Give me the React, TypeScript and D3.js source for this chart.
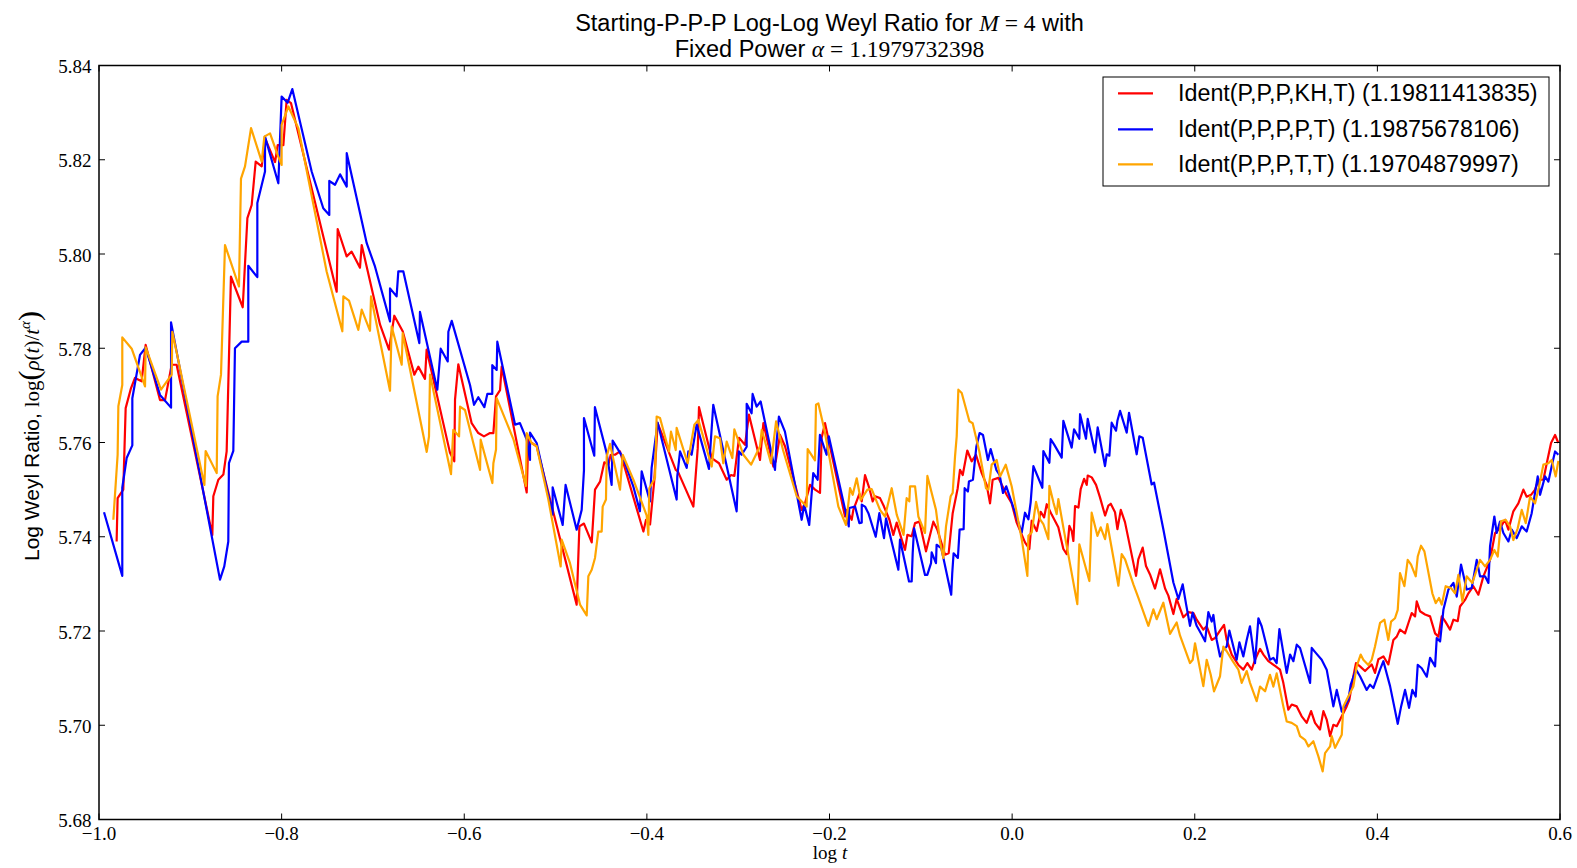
import React from "react";
import * as d3 from "d3";

const X_TICKS = [-1.0, -0.8, -0.6, -0.4, -0.2, 0.0, 0.2, 0.4, 0.6];
const Y_TICKS = [5.68, 5.7, 5.72, 5.74, 5.76, 5.78, 5.8, 5.82, 5.84];

const LABELS = [
  "Ident(P,P,P,KH,T) (1.19811413835)",
  "Ident(P,P,P,P,T) (1.19875678106)",
  "Ident(P,P,P,T,T) (1.19704879997)",
];
const COLORS = ["#ff0000", "#0000ff", "#ffa500"];

const RED: [number, number][] = [
  [-0.9807,5.739],[-0.9796,5.7482],[-0.9734,5.75],[-0.9708,5.7673],[-0.965,5.7715],[-0.9606,5.7737],[-0.9533,5.773],[-0.9489,5.7807],[-0.9332,5.769],[-0.9277,5.769],[-0.9204,5.7765],[-0.915,5.7765],[-0.8759,5.7404],[-0.8748,5.7486],[-0.8693,5.7521],[-0.8638,5.7532],[-0.8602,5.7581],[-0.8555,5.7952],[-0.8426,5.7887],[-0.8375,5.8076],[-0.8328,5.8104],[-0.8284,5.8196],[-0.8218,5.8186],[-0.8182,5.8246],[-0.8072,5.8195],[-0.8043,5.8231],[-0.7981,5.8231],[-0.7945,5.8327],[-0.7897,5.832],[-0.7397,5.792],[-0.7386,5.8053],[-0.7288,5.7995],[-0.7233,5.8005],[-0.7142,5.7971],[-0.7123,5.8019],[-0.6922,5.785],[-0.6824,5.7797],[-0.6766,5.7869],[-0.6674,5.7836],[-0.6547,5.7744],[-0.6503,5.7761],[-0.643,5.7735],[-0.6412,5.7797],[-0.6156,5.7578],[-0.6109,5.756],[-0.6101,5.7691],[-0.6065,5.7766],
  [-0.5919,5.7641],[-0.5846,5.762],[-0.5784,5.7613],[-0.5718,5.762],[-0.5681,5.762],[-0.5652,5.7698],[-0.5608,5.7711],[-0.559,5.7761],[-0.5316,5.7494],[-0.5298,5.7607],[-0.5261,5.7599],[-0.5207,5.7592],[-0.4769,5.7256],[-0.4739,5.7422],[-0.4689,5.7428],[-0.4604,5.7388],[-0.4568,5.75],[-0.4513,5.7517],[-0.4466,5.7558],[-0.4422,5.7553],[-0.4396,5.7574],[-0.4349,5.7574],[-0.4294,5.7581],[-0.4038,5.7411],[-0.4009,5.7436],[-0.3965,5.7426],[-0.3918,5.7521],[-0.3882,5.7641],[-0.3684,5.7542],[-0.3662,5.7539],[-0.3637,5.7528],[-0.3491,5.7464],[-0.3443,5.7588],[-0.3429,5.7675],[-0.329,5.7567],[-0.321,5.7556],[-0.3126,5.7521],[-0.3078,5.7531],[-0.3042,5.7529],[-0.2991,5.761],[-0.2925,5.7595],[-0.2882,5.7659],[-0.2761,5.7563],[-0.2724,5.7641],[-0.2615,5.7549],[-0.2589,5.756],[-0.2542,5.7616],[-0.2487,5.7592],[-0.2305,5.7457],[-0.2268,5.7471],[-0.2213,5.751],[-0.2158,5.75],[-0.2104,5.7493],[-0.2086,5.761],[-0.2049,5.7641],
  [-0.183,5.7443],[-0.181,5.7457],[-0.1757,5.7436],[-0.1739,5.7457],[-0.1673,5.7491],[-0.1647,5.7475],[-0.1611,5.7531],[-0.1564,5.7503],[-0.1527,5.7475],[-0.1501,5.7486],[-0.1447,5.7482],[-0.1403,5.7464],[-0.1344,5.7436],[-0.1301,5.7404],[-0.1264,5.743],[-0.1209,5.7394],[-0.1173,5.7372],[-0.1147,5.7404],[-0.11,5.7401],[-0.1063,5.7429],[-0.1015,5.7432],[-0.0943,5.7369],[-0.0863,5.7432],[-0.0819,5.7415],[-0.0735,5.7362],[-0.0695,5.7365],[-0.0651,5.745],[-0.0596,5.7503],[-0.0571,5.7542],[-0.0541,5.7531],[-0.0491,5.7583],[-0.0443,5.756],[-0.0396,5.7574],[-0.0333,5.7535],[-0.0279,5.751],[-0.0242,5.7471],[-0.0213,5.7521],[-0.0151,5.7525],[-0.006,5.7489],[-0.0005,5.7471],
  [0.005,5.743],[0.0141,5.7388],[0.0189,5.7374],[0.0214,5.7434],[0.0269,5.7412],[0.0313,5.7453],[0.035,5.7441],[0.0379,5.7469],[0.0433,5.7447],[0.0506,5.742],[0.0561,5.7374],[0.0598,5.7363],[0.0627,5.7423],[0.0653,5.7412],[0.0671,5.7391],[0.0689,5.7465],[0.0726,5.7462],[0.0751,5.7501],[0.0788,5.7523],[0.0817,5.751],[0.0828,5.753],[0.0872,5.7526],[0.0919,5.751],[0.0963,5.7483],[0.1018,5.7445],[0.1054,5.7466],[0.108,5.747],[0.1127,5.7452],[0.1153,5.7416],[0.119,5.7457],[0.1236,5.7431],[0.1357,5.7317],[0.1382,5.7352],[0.143,5.7377],[0.1466,5.7338],[0.151,5.732],[0.1565,5.729],[0.162,5.7331],[0.1675,5.729],[0.1711,5.7275],[0.1766,5.7236],[0.1802,5.7268],[0.1875,5.7229],[0.193,5.724],
  [0.1985,5.7238],[0.2021,5.7224],[0.2094,5.7203],[0.2131,5.721],[0.2186,5.7181],[0.2222,5.7185],[0.2284,5.7203],[0.2321,5.7213],[0.235,5.7181],[0.2405,5.715],[0.2478,5.7128],[0.2532,5.7118],[0.2576,5.7132],[0.2624,5.7118],[0.266,5.7139],[0.2715,5.7162],[0.2752,5.715],[0.2806,5.7136],[0.2879,5.7126],[0.2934,5.7118],[0.297,5.709],[0.3025,5.7033],[0.3062,5.7044],[0.3117,5.704],[0.3171,5.7019],[0.3226,5.7005],[0.3274,5.703],[0.3317,5.7005],[0.3372,5.6991],[0.3409,5.703],[0.3445,5.7012],[0.3482,5.6977],[0.3518,5.7001],[0.3555,5.6998],[0.361,5.7019],[0.3664,5.704],[0.3693,5.7054],[0.373,5.7097],[0.3766,5.7132],[0.381,5.7125],[0.3865,5.7115],[0.3938,5.7129],
  [0.3974,5.7111],[0.4011,5.714],[0.4066,5.7146],[0.412,5.7129],[0.4175,5.7181],[0.4212,5.7188],[0.4248,5.7203],[0.4303,5.7195],[0.434,5.7217],[0.4376,5.7238],[0.4413,5.7231],[0.4431,5.7263],[0.4467,5.7242],[0.4522,5.7235],[0.4577,5.7231],[0.4632,5.7195],[0.4668,5.7188],[0.4705,5.7231],[0.4741,5.7221],[0.4796,5.7203],[0.4833,5.7224],[0.488,5.7221],[0.4905,5.7252],[0.496,5.7266],[0.4997,5.728],[0.5051,5.7295],[0.5106,5.7277],[0.5161,5.7316],[0.5234,5.7351],[0.5289,5.7408],[0.5343,5.7418],[0.5398,5.7436],[0.5435,5.7415],[0.5489,5.7454],[0.5544,5.7471],[0.5599,5.75],[0.5635,5.7485],[0.5683,5.7489],[0.5727,5.75],[0.5763,5.7521],[0.5818,5.7521],[0.5855,5.7556],[0.5902,5.7599],[0.5946,5.7616],[0.5982,5.7599],
];

const BLUE: [number, number][] = [
  [-0.9945,5.7452],[-0.9745,5.7317],[-0.9745,5.7504],[-0.9697,5.7567],[-0.9635,5.7594],[-0.9635,5.7694],[-0.9551,5.7786],[-0.9489,5.7801],[-0.9332,5.7701],[-0.9211,5.7674],[-0.9211,5.7855],[-0.8675,5.7309],[-0.8628,5.7337],[-0.8584,5.739],[-0.8577,5.7556],[-0.8529,5.7582],[-0.8511,5.78],[-0.8437,5.7814],[-0.8365,5.7814],[-0.8365,5.7975],[-0.8266,5.7951],[-0.8266,5.8108],[-0.8182,5.8175],[-0.8182,5.8249],[-0.8036,5.815],[-0.8,5.8334],
  [-0.7934,5.8321],[-0.7883,5.835],[-0.7671,5.8175],[-0.7544,5.8097],[-0.7478,5.8083],[-0.7478,5.8155],[-0.7415,5.8147],[-0.736,5.8169],[-0.7287,5.8143],[-0.7287,5.8214],[-0.7068,5.8023],[-0.6977,5.7973],[-0.6813,5.7857],[-0.6813,5.7927],[-0.6741,5.791],[-0.6722,5.7963],[-0.6667,5.7963],[-0.6492,5.7811],[-0.6485,5.7877],[-0.6295,5.7712],[-0.6258,5.7799],[-0.6181,5.7772],[-0.6174,5.7835],[-0.6137,5.7858],[-0.5937,5.7722],
  [-0.5893,5.768],[-0.5846,5.7696],[-0.578,5.7675],[-0.5747,5.7703],[-0.5693,5.7703],[-0.5693,5.7764],[-0.5645,5.7754],[-0.5638,5.7814],[-0.5444,5.7638],[-0.539,5.7641],[-0.5316,5.7606],[-0.528,5.7563],[-0.528,5.7621],[-0.5207,5.7599],[-0.5032,5.7447],[-0.5032,5.7505],[-0.4922,5.7425],[-0.489,5.751],[-0.4769,5.7415],[-0.4714,5.7457],[-0.4689,5.7541],[-0.4689,5.7652],[-0.4576,5.7572],[-0.4569,5.7675],[-0.4441,5.7578],[-0.4386,5.751],[-0.4375,5.7604],[-0.4258,5.7567],[-0.4149,5.7507],[-0.4076,5.7454],[-0.4057,5.7539],[-0.3966,5.7475],[-0.3948,5.7546],
  [-0.3882,5.7642],[-0.3674,5.7479],[-0.3667,5.7528],[-0.3637,5.7581],[-0.3564,5.7546],[-0.3546,5.7581],[-0.351,5.7574],[-0.3455,5.7638],[-0.332,5.7544],[-0.3273,5.768],[-0.3017,5.7454],[-0.2992,5.7581],[-0.2962,5.7574],[-0.2907,5.7591],[-0.2907,5.7682],[-0.2853,5.7662],[-0.2842,5.7703],[-0.2798,5.7676],[-0.2754,5.7687],[-0.2597,5.7542],[-0.2579,5.7602],[-0.2554,5.7655],[-0.2488,5.7623],[-0.2305,5.7436],[-0.2277,5.7468],[-0.2222,5.7425],[-0.2178,5.7535],[-0.213,5.7521],[-0.2105,5.7616],[-0.2032,5.7574],[-0.2007,5.7613],
  [-0.1825,5.7454],[-0.1789,5.7422],[-0.1784,5.7461],[-0.172,5.7464],[-0.1673,5.7429],[-0.1647,5.743],[-0.1647,5.7468],[-0.1611,5.7464],[-0.1574,5.745],[-0.1494,5.74],[-0.1454,5.745],[-0.1403,5.7397],[-0.1381,5.7439],[-0.1246,5.733],[-0.1228,5.7394],[-0.1129,5.7305],[-0.11,5.7305],[-0.1089,5.7365],[-0.1074,5.7418],[-0.0954,5.7319],[-0.0929,5.7319],[-0.0888,5.7344],[-0.0881,5.7367],[-0.0834,5.7344],[-0.0827,5.7383],[-0.0776,5.7376],[-0.0667,5.7277],[-0.0656,5.7322],[-0.0641,5.7365],[-0.0594,5.7355],[-0.0575,5.7415],[-0.0531,5.7416],[-0.052,5.7503],[-0.0484,5.7496],[-0.0473,5.7517],[-0.0429,5.7521],[-0.0392,5.7591],[-0.0356,5.762],[-0.0319,5.7616],[-0.0265,5.7563],[-0.0235,5.7586],[-0.0173,5.7542],[-0.0137,5.7531],[-0.01,5.7493],[-0.0064,5.7507],[-0.0009,5.7475],
  [0.0014,5.7462],[0.0105,5.7409],[0.0141,5.7451],[0.0178,5.7437],[0.0203,5.7473],[0.0233,5.755],[0.0331,5.7504],[0.0342,5.7582],[0.0408,5.7557],[0.0422,5.7607],[0.0459,5.7596],[0.0543,5.7568],[0.0561,5.7646],[0.0652,5.7589],[0.0678,5.7628],[0.0736,5.7608],[0.0744,5.766],[0.0809,5.7608],[0.0828,5.765],[0.0908,5.7579],[0.0937,5.7632],[0.1017,5.755],[0.1036,5.7575],[0.1065,5.7572],[0.109,5.7642],[0.1138,5.7625],[0.1153,5.7646],[0.1182,5.7667],[0.1255,5.7621],[0.128,5.7663],[0.1364,5.7575],[0.1393,5.7613],[0.143,5.761],[0.1528,5.7511],[0.1554,5.7515],[0.1656,5.7416],[0.1766,5.7303],[0.1821,5.7268],[0.1868,5.7299],[0.1905,5.7257],[0.1948,5.7211],[0.1977,5.7239],[0.2021,5.7211],
  [0.2076,5.7192],[0.2113,5.7178],[0.2149,5.724],[0.2186,5.722],[0.2204,5.7234],[0.224,5.7181],[0.2277,5.7146],[0.2313,5.716],[0.235,5.7167],[0.2379,5.7201],[0.2459,5.7139],[0.2489,5.7176],[0.2532,5.7146],[0.2569,5.7181],[0.2605,5.721],[0.266,5.7132],[0.2697,5.7227],[0.2733,5.721],[0.2824,5.7139],[0.2861,5.7143],[0.2897,5.7132],[0.2927,5.7204],[0.3007,5.7111],[0.3044,5.715],[0.308,5.7136],[0.3117,5.7171],[0.3153,5.7164],[0.3263,5.709],[0.3281,5.7164],[0.3328,5.7153],[0.339,5.7139],[0.3445,5.7118],[0.3518,5.704],[0.3555,5.7075],[0.361,5.7029],[0.3682,5.7054],[0.3708,5.7086],[0.3766,5.7118],[0.381,5.7104],[0.3883,5.7075],[0.392,5.7086],[0.3956,5.7079],
  [0.4029,5.7118],[0.4066,5.7136],[0.4139,5.7083],[0.4223,5.7003],[0.426,5.704],[0.4303,5.7075],[0.4347,5.7037],[0.4383,5.7075],[0.442,5.7061],[0.4442,5.7128],[0.4486,5.7121],[0.4541,5.7103],[0.4577,5.7143],[0.4632,5.7125],[0.465,5.7185],[0.4687,5.7178],[0.4723,5.7245],[0.4778,5.7288],[0.4833,5.7302],[0.4869,5.7273],[0.4916,5.7341],[0.4978,5.7288],[0.5033,5.7291],[0.5088,5.7351],[0.5124,5.7316],[0.5179,5.7316],[0.5216,5.7302],[0.5234,5.738],[0.5281,5.7443],[0.5307,5.7408],[0.5343,5.7432],[0.538,5.7408],[0.5435,5.739],[0.5471,5.7415],[0.5526,5.7397],[0.5581,5.7422],[0.5635,5.7411],[0.569,5.745],[0.5756,5.7528],[0.5782,5.7489],[0.5836,5.7528],[0.5873,5.7517],[0.5916,5.7556],[0.5946,5.7581],[0.5982,5.7574],
];

const ORANGE: [number, number][] = [
  [-0.9843,5.7436],[-0.9796,5.7574],[-0.9788,5.7677],[-0.9745,5.7722],[-0.9745,5.7823],[-0.9642,5.7799],[-0.9496,5.7719],[-0.9489,5.7802],[-0.9321,5.7712],[-0.9204,5.7744],[-0.9197,5.7835],[-0.8846,5.751],[-0.8832,5.7582],[-0.8711,5.7535],[-0.8701,5.7698],[-0.8664,5.7744],[-0.862,5.8019],[-0.8467,5.7931],[-0.8445,5.816],[-0.8401,5.8186],[-0.8335,5.8267],[-0.8218,5.8196],[-0.8189,5.8249],[-0.8127,5.8256],[-0.8043,5.821],[-0.8,5.8189],[-0.8,5.8274],
  [-0.7926,5.8313],[-0.7817,5.8267],[-0.7507,5.7963],[-0.7335,5.7836],[-0.7324,5.791],[-0.7262,5.7901],[-0.716,5.7839],[-0.7123,5.7882],[-0.7032,5.7837],[-0.7021,5.791],[-0.6813,5.771],[-0.6795,5.7846],[-0.6685,5.7765],[-0.6674,5.7832],[-0.6411,5.758],[-0.6386,5.7613],[-0.6375,5.7744],[-0.6145,5.7533],[-0.612,5.7627],[-0.6057,5.7613],[-0.6046,5.7676],[-0.5992,5.7669],
  [-0.5827,5.7542],[-0.582,5.7606],[-0.5692,5.7514],[-0.5681,5.7556],[-0.5652,5.7585],[-0.5645,5.7694],[-0.546,5.7606],[-0.5324,5.7508],[-0.5316,5.762],[-0.5262,5.7599],[-0.5207,5.7592],[-0.5079,5.7479],[-0.4944,5.7337],[-0.4933,5.7394],[-0.4842,5.7344],[-0.4732,5.7256],[-0.4659,5.7233],[-0.4641,5.7316],[-0.4604,5.733],[-0.4568,5.7355],[-0.4532,5.7411],[-0.4495,5.7411],[-0.4484,5.7464],[-0.4448,5.7479],[-0.444,5.757],[-0.4404,5.7597],[-0.4294,5.75],[-0.4265,5.7574],[-0.4148,5.7521],[-0.4002,5.7445],[-0.3984,5.7404],[-0.3973,5.7503],[-0.3911,5.7525],
  [-0.3893,5.7655],[-0.3856,5.7652],[-0.3757,5.7581],[-0.3736,5.7623],[-0.3684,5.7584],[-0.3674,5.7631],[-0.3553,5.7556],[-0.348,5.7638],[-0.3436,5.7648],[-0.329,5.7549],[-0.3254,5.7613],[-0.3199,5.7609],[-0.3163,5.7556],[-0.3126,5.7602],[-0.3064,5.7567],[-0.3042,5.7628],[-0.2943,5.7574],[-0.2859,5.7553],[-0.2761,5.7592],[-0.2742,5.7627],[-0.264,5.7556],[-0.2585,5.7645],[-0.2509,5.7584],[-0.2359,5.7486],[-0.225,5.7464],[-0.2239,5.7586],[-0.2159,5.7562],[-0.2148,5.768],[-0.2122,5.7683],[-0.2056,5.7627],
  [-0.1903,5.7464],[-0.1819,5.7425],[-0.1775,5.7503],[-0.1746,5.7489],[-0.1702,5.7524],[-0.1658,5.7478],[-0.1585,5.75],[-0.1538,5.7501],[-0.1447,5.7457],[-0.1392,5.7443],[-0.1319,5.7503],[-0.1264,5.7447],[-0.1189,5.7404],[-0.1155,5.7482],[-0.1126,5.7475],[-0.1118,5.7507],[-0.1063,5.7507],[-0.1027,5.7443],[-0.0954,5.7408],[-0.0928,5.7529],[-0.0834,5.7457],[-0.079,5.739],[-0.0753,5.7355],[-0.0724,5.7422],[-0.0673,5.7486],[-0.0651,5.7493],[-0.0625,5.7571],[-0.0607,5.7613],[-0.0589,5.7712],[-0.0552,5.7705],[-0.0468,5.7645],[-0.0432,5.7641],[-0.0359,5.7581],[-0.0286,5.7503],[-0.026,5.75],[-0.0224,5.7553],[-0.0169,5.7563],[-0.0132,5.7528],[-0.007,5.7553],[-0.0005,5.7507],
  [0.0105,5.7395],[0.0167,5.7317],[0.0178,5.7402],[0.0214,5.7409],[0.0262,5.7474],[0.0306,5.7437],[0.0342,5.7427],[0.0397,5.7395],[0.0408,5.7508],[0.0452,5.7473],[0.0488,5.7448],[0.0506,5.748],[0.0561,5.742],[0.0714,5.7257],[0.0736,5.7384],[0.0846,5.7306],[0.0871,5.7451],[0.0934,5.7402],[0.097,5.742],[0.1018,5.7395],[0.1043,5.7427],[0.1164,5.7296],[0.12,5.7363],[0.1237,5.7352],[0.1328,5.7299],[0.1382,5.7271],[0.1492,5.7211],[0.1547,5.7246],[0.1583,5.7225],[0.1656,5.726],[0.1729,5.7194],[0.1802,5.7218],[0.1839,5.719],
  [0.1948,5.7132],[0.1978,5.7139],[0.2003,5.7174],[0.2094,5.7083],[0.2131,5.7139],[0.2175,5.7107],[0.2211,5.7072],[0.224,5.7086],[0.2277,5.7104],[0.2313,5.7167],[0.235,5.7157],[0.2416,5.7136],[0.2478,5.7118],[0.2514,5.709],[0.2569,5.7115],[0.2605,5.709],[0.2678,5.7051],[0.2715,5.7082],[0.277,5.7072],[0.2824,5.7107],[0.2861,5.7082],[0.2897,5.711],[0.297,5.704],[0.3007,5.7008],[0.3062,5.7005],[0.3117,5.6998],[0.3153,5.6977],[0.3208,5.6969],[0.3245,5.6955],[0.3299,5.6966],[0.3354,5.6934],[0.3401,5.6902],[0.3427,5.6941],[0.3482,5.6955],[0.35,5.6977],[0.3537,5.6952],[0.3573,5.6966],[0.361,5.698],[0.3628,5.704],[0.3664,5.7054],[0.3737,5.7082],[0.3773,5.7125],[0.3817,5.715],[0.3846,5.7139],[0.3901,5.7128],[0.3938,5.7139],
  [0.3974,5.7167],[0.4029,5.7217],[0.4077,5.7224],[0.412,5.7181],[0.415,5.722],[0.4193,5.7227],[0.4223,5.7245],[0.4248,5.7323],[0.4296,5.7295],[0.4332,5.7351],[0.4369,5.7341],[0.442,5.7316],[0.4442,5.7358],[0.4478,5.7381],[0.4515,5.7369],[0.4602,5.728],[0.4639,5.7259],[0.4675,5.727],[0.4705,5.7256],[0.4748,5.7295],[0.4807,5.7291],[0.4851,5.728],[0.4887,5.7319],[0.4931,5.7263],[0.4978,5.7316],[0.504,5.7302],[0.5124,5.7351],[0.5179,5.7337],[0.5234,5.7351],[0.5281,5.7372],[0.5318,5.7358],[0.5354,5.7433],[0.5405,5.7436],[0.5453,5.7422],[0.5489,5.7393],[0.5537,5.7418],[0.5581,5.7457],[0.5625,5.7429],[0.5672,5.7485],[0.5727,5.7471],[0.5771,5.7507],[0.5818,5.7553],[0.5873,5.7556],[0.5909,5.7563],[0.5953,5.7528],[0.5982,5.7561],
];

const SERIES_DATA = [RED, BLUE, ORANGE];

const SANS = "'Liberation Sans', Arial, Helvetica, sans-serif";
const SERIF = "'Liberation Serif', 'Times New Roman', serif";

export default function App() {
  const W = 1577, H = 868;
  const L = 99, R = 1560, T = 65.5, B = 819.5;
  const x = d3.scaleLinear().domain([-1, 0.6]).range([L, R]);
  const y = d3.scaleLinear().domain([5.68, 5.84]).range([B, T]);
  const line = d3.line<[number, number]>().x((d) => x(d[0])).y((d) => y(d[1]));
  const fx = d3.format(".1f");
  const fy = d3.format(".2f");
  const TL = 6;
  const legendRows = [93.3, 129.3, 164.3];

  return (
    <svg width={W} height={H} style={{ position: "absolute", left: 0, top: 0, display: "block" }}>
      <rect x={0} y={0} width={W} height={H} fill="#ffffff" />
      <defs>
        <clipPath id="plotclip">
          <rect x={L} y={T} width={R - L} height={B - T} />
        </clipPath>
      </defs>
      <g clipPath="url(#plotclip)">
        {SERIES_DATA.map((d, i) => (
          <path key={i} d={line(d) || ""} fill="none" stroke={COLORS[i]} strokeWidth={2.2} strokeLinejoin="round" />
        ))}
      </g>
      <rect x={L} y={T} width={R - L} height={B - T} fill="none" stroke="#000" strokeWidth={1.5} />
      {X_TICKS.map((t) => (
        <g key={"xt" + t}>
          <line x1={x(t)} x2={x(t)} y1={B} y2={B - TL} stroke="#000" strokeWidth={1} />
          <line x1={x(t)} x2={x(t)} y1={T} y2={T + TL} stroke="#000" strokeWidth={1} />
          <text x={x(t)} y={840} textAnchor="middle" fontFamily={SERIF} fontSize={19} fill="#000">
            {fx(t)}
          </text>
        </g>
      ))}
      {Y_TICKS.map((t) => (
        <g key={"yt" + t}>
          <line x1={L} x2={L + TL} y1={y(t)} y2={y(t)} stroke="#000" strokeWidth={1} />
          <line x1={R} x2={R - TL} y1={y(t)} y2={y(t)} stroke="#000" strokeWidth={1} />
          <text x={91.5} y={y(t) + 1} textAnchor="end" dominantBaseline="central" fontFamily={SERIF} fontSize={19} fill="#000">
            {fy(t)}
          </text>
        </g>
      ))}
      {/* Title */}
      <text x={829.5} y={31} textAnchor="middle" fontFamily={SANS} fontSize={23.5} fill="#000">
        {"Starting-P-P-P Log-Log Weyl Ratio for "}
        <tspan fontFamily={SERIF} fontStyle="italic">M</tspan>
        <tspan fontFamily={SERIF}>{" = 4"}</tspan>
        {" with"}
      </text>
      <text x={829.5} y={56.5} textAnchor="middle" fontFamily={SANS} fontSize={23.5} fill="#000">
        {"Fixed Power "}
        <tspan fontFamily={SERIF} fontStyle="italic">α</tspan>
        <tspan fontFamily={SERIF}>{" = 1.1979732398"}</tspan>
      </text>
      {/* X label */}
      <text x={830} y={859} textAnchor="middle" fontFamily={SERIF} fontSize={19} fill="#000">
        {"log "}
        <tspan fontStyle="italic">t</tspan>
      </text>
      {/* Y label */}
      <text transform="translate(39,436) rotate(-90)" textAnchor="middle" fontFamily={SANS} fontSize={21} fill="#000">
        {"Log Weyl Ratio, "}
        <tspan fontFamily={SERIF}>{"log"}</tspan>
        <tspan fontFamily={SERIF} fontSize={30}>{"("}</tspan>
        <tspan fontFamily={SERIF} fontStyle="italic">ρ</tspan>
        <tspan fontFamily={SERIF}>(</tspan>
        <tspan fontFamily={SERIF} fontStyle="italic">t</tspan>
        <tspan fontFamily={SERIF}>)/</tspan>
        <tspan fontFamily={SERIF} fontStyle="italic">t</tspan>
        <tspan fontFamily={SERIF} fontStyle="italic" fontSize={15} dy={-9}>α</tspan>
        <tspan fontFamily={SERIF} fontSize={30} dy={9}>{")"}</tspan>
      </text>
      {/* Legend */}
      <rect x={1103} y={77} width={446} height={109} fill="#ffffff" stroke="#000" strokeWidth={1} />
      {LABELS.map((lab, i) => (
        <g key={lab}>
          <line x1={1118} x2={1153} y1={legendRows[i]} y2={legendRows[i]} stroke={COLORS[i]} strokeWidth={2.2} />
          <text x={1178} y={legendRows[i]} dominantBaseline="central" fontFamily={SANS} fontSize={23.3} fill="#000">
            {lab}
          </text>
        </g>
      ))}
    </svg>
  );
}
